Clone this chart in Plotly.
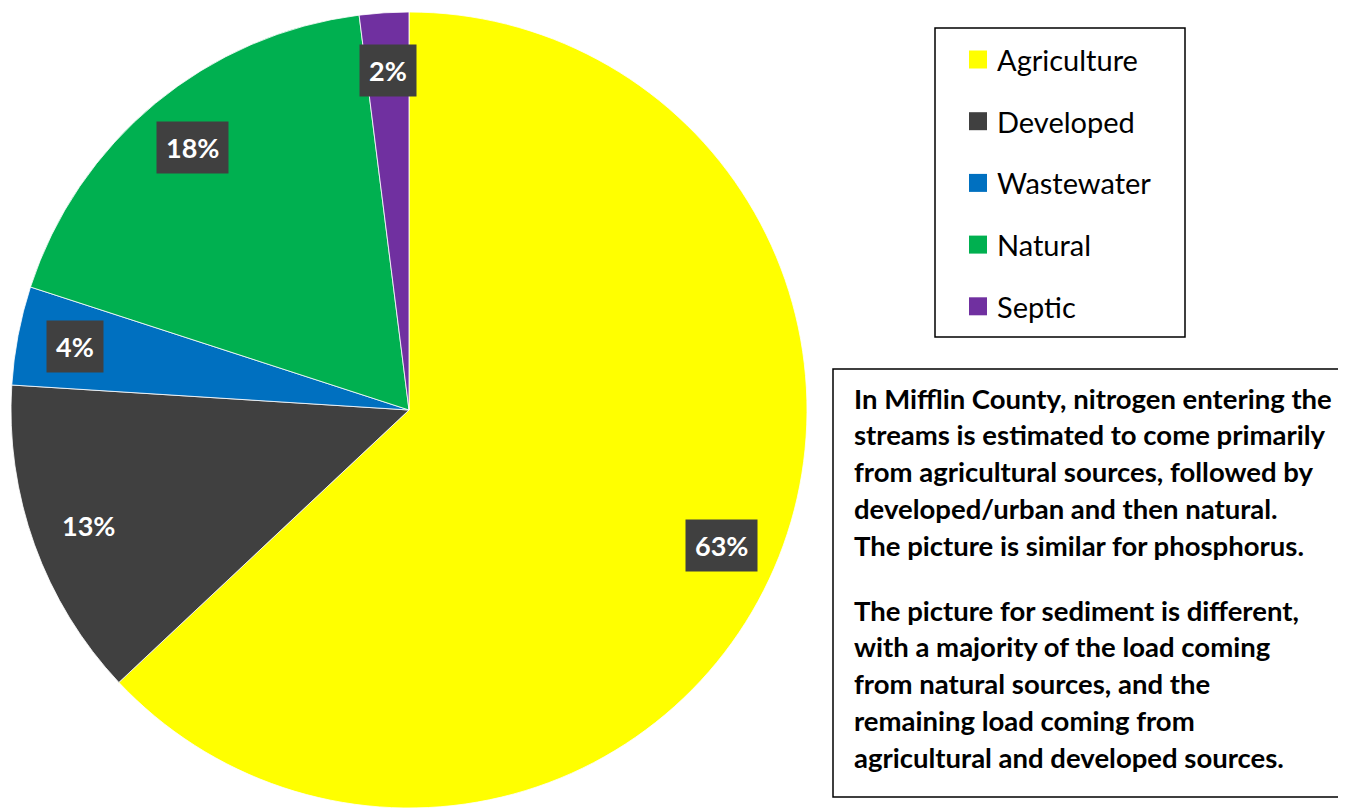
import math
import plotly.graph_objects as go

# ---- data ----
categories = ["Agriculture", "Developed", "Wastewater", "Natural", "Septic"]
shares = [63, 13, 4, 18, 2]
slice_colors = ["#FFFF00", "#404040", "#0070C0", "#00B050", "#7030A0"]
note_paragraph_1 = [
    "In Mifflin County, nitrogen entering the",
    "streams is estimated to come primarily",
    "from agricultural sources, followed by",
    "developed/urban and then natural.",
    "The picture is similar for phosphorus.",
]
note_paragraph_2 = [
    "The picture for sediment is different,",
    "with a majority of the load coming",
    "from natural sources, and the",
    "remaining load coming from",
    "agricultural and developed sources.",
]

# ---- layout helpers (screen pixel -> paper; page body has 8px offset) ----
W, H = 1346, 808
OFF = 8
def px(x):
    return (x - OFF) / W
def py(y):
    return 1 - (y - OFF) / H

pie_l, pie_r, pie_t, pie_b = 10, 808, 12, 808
cx, cy = (pie_l + pie_r) / 2, (pie_t + pie_b) / 2
R = min(pie_r - pie_l, pie_b - pie_t) / 2

fig = go.Figure(go.Pie(
    labels=categories,
    values=shares,
    sort=False,
    direction="clockwise",
    rotation=0,
    textinfo="none",
    hoverinfo="label+percent",
    showlegend=False,
    marker=dict(colors=slice_colors, line=dict(color="white", width=0.8)),
    domain=dict(x=[px(pie_l), px(pie_r)], y=[py(pie_b), py(pie_t)]),
))

annotations = []
shapes = []

# data labels with dark boxes, placed by slice mid-angle
total = sum(shares)
cum = 0
for v in shares:
    mid = (cum + v / 2) / total * 2 * math.pi
    cum += v
    rr = 0.855 * R
    x = cx + rr * math.sin(mid)
    y = cy - rr * math.cos(mid)
    pct = round(v / total * 100)
    annotations.append(dict(
        x=px(x), y=py(y), xref="paper", yref="paper",
        text=f"<b>{pct}%</b>", showarrow=False,
        font=dict(family="Lato, Liberation Sans, sans-serif", size=27, color="white"),
        bgcolor="#404040", borderpad=9, xanchor="center", yanchor="middle",
    ))

# legend box
shapes.append(dict(type="rect", xref="paper", yref="paper",
                   x0=px(935), x1=px(1185), y0=py(337), y1=py(28),
                   line=dict(color="black", width=1.5), fillcolor="white", layer="below"))
leg_y0, leg_step = 59.5, 61.7
for i, (cat, col) in enumerate(zip(categories, slice_colors)):
    yc = leg_y0 + i * leg_step
    shapes.append(dict(type="rect", xref="paper", yref="paper",
                       x0=px(969), x1=px(987), y0=py(yc + 9), y1=py(yc - 9),
                       line=dict(width=0), fillcolor=col))
    annotations.append(dict(
        x=px(995), y=py(yc), xref="paper", yref="paper", text=cat, showarrow=False,
        xanchor="left", yanchor="middle",
        font=dict(family="Lato, Liberation Sans, sans-serif", size=29, color="black"),
    ))

# note box
shapes.append(dict(type="rect", xref="paper", yref="paper",
                   x0=px(833), x1=px(1360), y0=py(797), y1=py(369),
                   line=dict(color="black", width=1.5), fillcolor="white", layer="below"))
line_step = 36.8
for start, lines in ((398, note_paragraph_1), (610, note_paragraph_2)):
    for i, t in enumerate(lines):
        annotations.append(dict(
            x=px(852), y=py(start + i * line_step), xref="paper", yref="paper",
            text=f"<b>{t}</b>", showarrow=False, xanchor="left", yanchor="middle",
            font=dict(family="Lato, Liberation Sans, sans-serif", size=27.5, color="black"),
        ))

fig.update_layout(
    width=W, height=H,
    margin=dict(l=0, r=0, t=0, b=0),
    paper_bgcolor="white", plot_bgcolor="white",
    annotations=annotations, shapes=shapes,
)

fig.write_html("out.html")
